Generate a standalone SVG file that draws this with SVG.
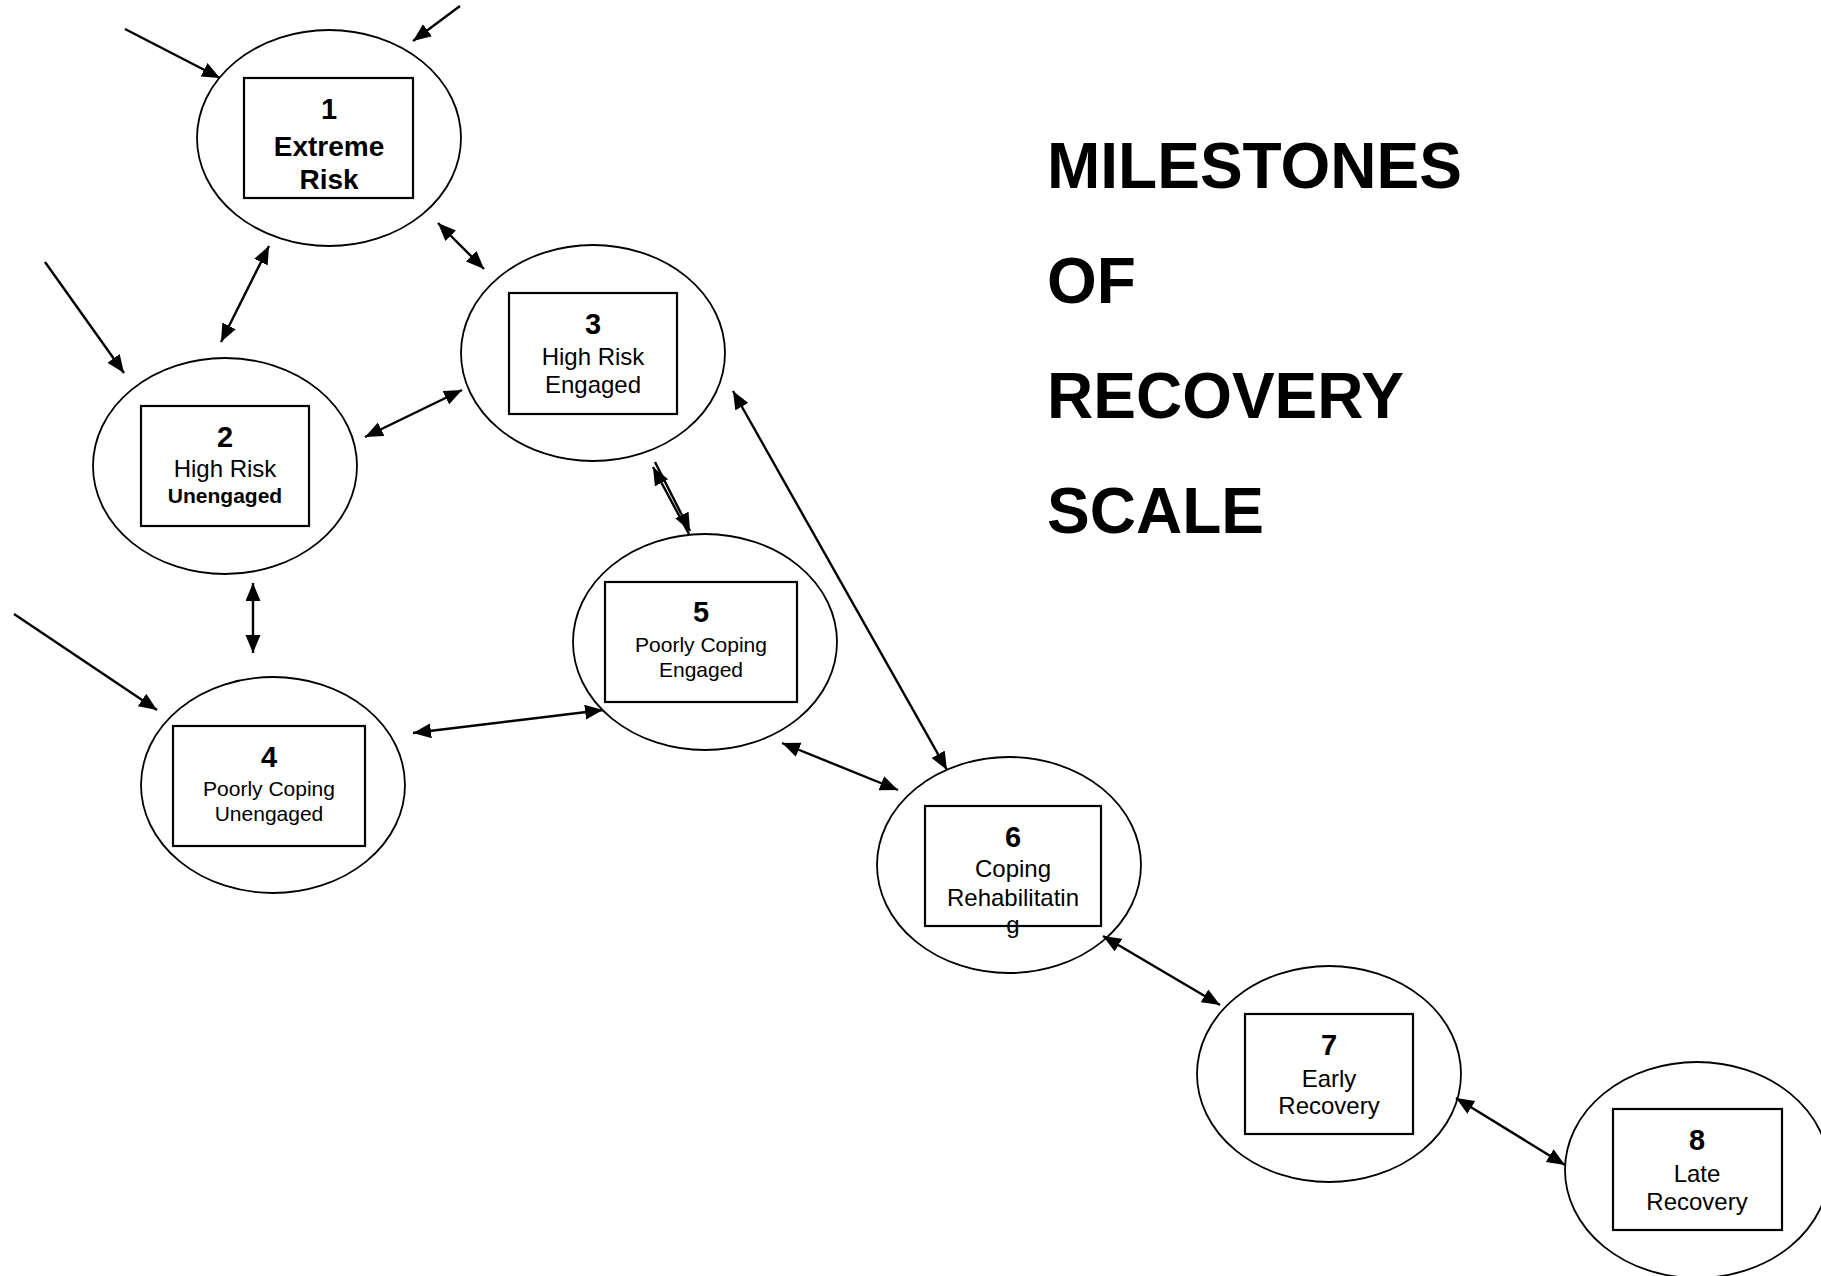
<svg xmlns="http://www.w3.org/2000/svg" width="1821" height="1276" viewBox="0 0 1821 1276">
<style>
.ell{fill:none;stroke:#000;stroke-width:1.8}
.box{fill:#fff;stroke:#000;stroke-width:2.2}
text{font-family:"Liberation Sans",Arial,sans-serif;fill:#000;text-anchor:middle}
.num{font-size:29px;font-weight:bold}
.lbl{font-size:24px}
.sm{font-size:21px}
.b{font-weight:bold}
.big{font-size:28px;font-weight:bold}
.title{font-size:64px;font-weight:bold;text-anchor:start}
.con line{stroke:#000;stroke-width:2.4}
</style>
<defs>
<marker id="ah" markerUnits="userSpaceOnUse" markerWidth="20" markerHeight="16" refX="18" refY="7.5" orient="auto-start-reverse">
<path d="M0,0 L18,7.5 L0,15 Z" fill="#000"/>
</marker>
</defs>
<rect width="1821" height="1276" fill="#fff"/>
<g id="node1">
<ellipse class="ell" cx="329" cy="138" rx="132" ry="108"/>
<rect class="box" x="244" y="78" width="169" height="120"/>
<text class="num" x="329" y="119">1</text>
<text class="big" x="329" y="156">Extreme</text>
<text class="big" x="329" y="189">Risk</text>
</g>
<g id="node2">
<ellipse class="ell" cx="225" cy="466" rx="132" ry="108"/>
<rect class="box" x="141" y="406" width="168" height="120"/>
<text class="num" x="225" y="447">2</text>
<text class="lbl" x="225" y="477">High Risk</text>
<text class="sm b" x="225" y="503">Unengaged</text>
</g>
<g id="node3">
<ellipse class="ell" cx="593" cy="353" rx="132" ry="108"/>
<rect class="box" x="509" y="293" width="168" height="121"/>
<text class="num" x="593" y="334">3</text>
<text class="lbl" x="593" y="365">High Risk</text>
<text class="lbl" x="593" y="393">Engaged</text>
</g>
<g id="node4">
<ellipse class="ell" cx="273" cy="785" rx="132" ry="108"/>
<rect class="box" x="173" y="726" width="192" height="120"/>
<text class="num" x="269" y="767">4</text>
<text class="sm" x="269" y="796">Poorly Coping</text>
<text class="sm" x="269" y="821">Unengaged</text>
</g>
<g id="node5">
<ellipse class="ell" cx="705" cy="642" rx="132" ry="108"/>
<rect class="box" x="605" y="582" width="192" height="120"/>
<text class="num" x="701" y="622">5</text>
<text class="sm" x="701" y="652">Poorly Coping</text>
<text class="sm" x="701" y="677">Engaged</text>
</g>
<g id="node6">
<ellipse class="ell" cx="1009" cy="865" rx="132" ry="108"/>
<rect class="box" x="925" y="806" width="176" height="120"/>
<text class="num" x="1013" y="847">6</text>
<text class="lbl" x="1013" y="877">Coping</text>
<text class="lbl" x="1013" y="906">Rehabilitatin</text>
<text class="lbl" x="1013" y="933">g</text>
</g>
<g id="node7">
<ellipse class="ell" cx="1329" cy="1074" rx="132" ry="108"/>
<rect class="box" x="1245" y="1014" width="168" height="120"/>
<text class="num" x="1329" y="1055">7</text>
<text class="lbl" x="1329" y="1087">Early</text>
<text class="lbl" x="1329" y="1114">Recovery</text>
</g>
<g id="node8">
<ellipse class="ell" cx="1697" cy="1170" rx="132" ry="108"/>
<rect class="box" x="1613" y="1109" width="169" height="121"/>
<text class="num" x="1697" y="1150">8</text>
<text class="lbl" x="1697" y="1182">Late</text>
<text class="lbl" x="1697" y="1210">Recovery</text>
</g>
<g id="title">
<text class="title" x="1047" y="188">MILESTONES</text>
<text class="title" x="1047" y="303">OF</text>
<text class="title" x="1047" y="418">RECOVERY</text>
<text class="title" x="1047" y="533">SCALE</text>
</g>
<g id="connectors" class="con">
<line x1="125" y1="29" x2="220" y2="78" marker-end="url(#ah)"/>
<line x1="460" y1="6" x2="413" y2="41" marker-end="url(#ah)"/>
<line x1="269" y1="246" x2="221" y2="342" marker-start="url(#ah)" marker-end="url(#ah)"/>
<line x1="438" y1="223" x2="484" y2="269" marker-start="url(#ah)" marker-end="url(#ah)"/>
<line x1="45" y1="262" x2="124" y2="373" marker-end="url(#ah)"/>
<line x1="365" y1="437" x2="462" y2="390" marker-start="url(#ah)" marker-end="url(#ah)"/>
<line x1="253" y1="583" x2="253" y2="653" marker-start="url(#ah)" marker-end="url(#ah)"/>
<line x1="14" y1="614" x2="157" y2="710" marker-end="url(#ah)"/>
<line x1="413" y1="733" x2="603" y2="710" marker-start="url(#ah)" marker-end="url(#ah)"/>
<line x1="733" y1="391" x2="947" y2="770" marker-start="url(#ah)" marker-end="url(#ah)"/>
<line x1="689" y1="534" x2="653" y2="467" marker-end="url(#ah)"/>
<line x1="655" y1="462" x2="690" y2="531" marker-end="url(#ah)"/>
<line x1="782" y1="743" x2="898" y2="790" marker-start="url(#ah)" marker-end="url(#ah)"/>
<line x1="1103" y1="936" x2="1220" y2="1005" marker-start="url(#ah)" marker-end="url(#ah)"/>
<line x1="1456" y1="1098" x2="1565" y2="1165" marker-start="url(#ah)" marker-end="url(#ah)"/>
</g>
</svg>
